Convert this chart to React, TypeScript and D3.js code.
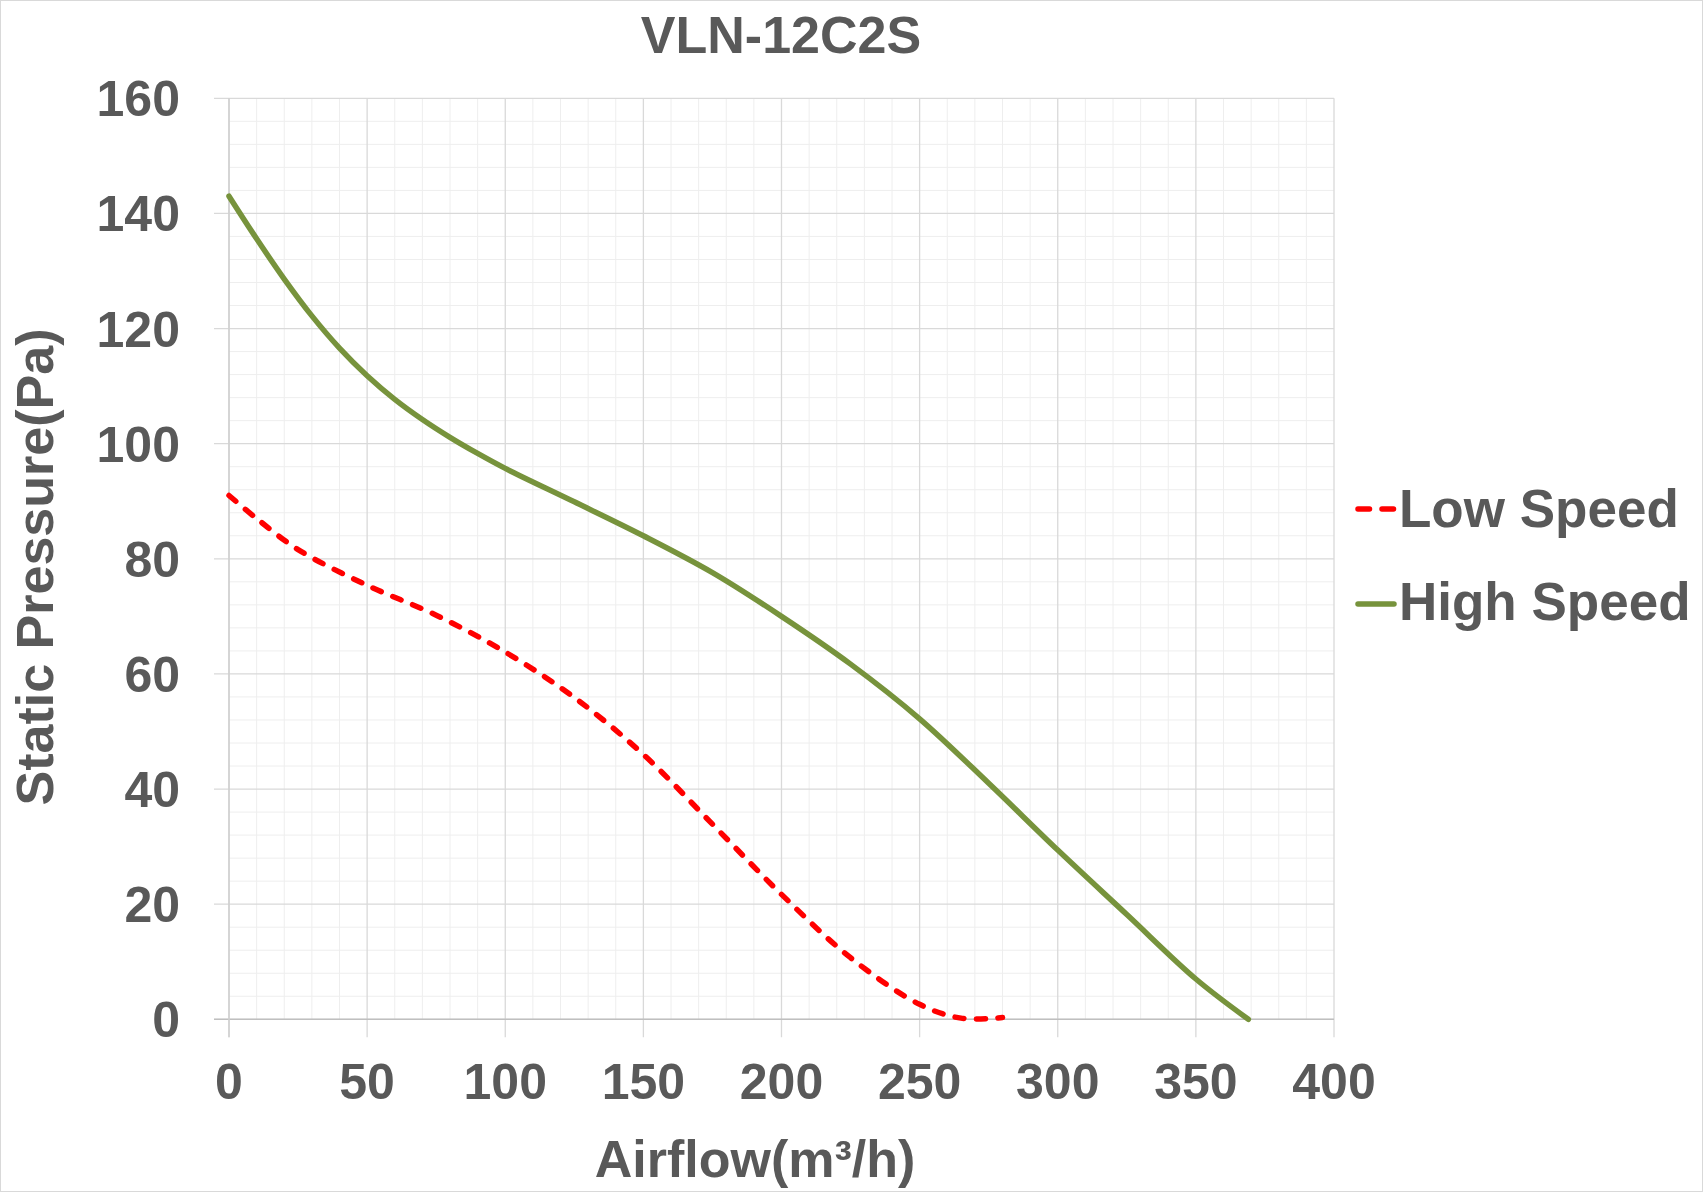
import React from "react";
import * as d3 from "d3";

// Fan curve data (airflow m³/h → static pressure Pa)
const lowAirflow = [0, 10, 25, 50, 75, 100, 125, 150, 175, 200, 225, 250, 265, 280];
const lowPressure = [91.0, 87.0, 81.6, 75.4, 70.2, 63.8, 55.9, 46.0, 33.9, 21.7, 10.7, 2.6, 0.2, 0.3];

const highAirflow = [0, 10, 20, 30, 40, 50, 60, 70, 80, 90, 100, 125, 150, 175, 200, 225, 250, 275, 300, 325, 350, 369];
const highPressure = [143, 135.6, 128.6, 122.2, 116.6, 111.8, 107.7, 104.2, 101.1, 98.3, 95.7, 89.9, 84.0, 77.6, 70, 61.7, 52.2, 41, 29.4, 18.2, 7.0, 0];

const xTicks = [0, 50, 100, 150, 200, 250, 300, 350, 400];
const yTicks = [0, 20, 40, 60, 80, 100, 120, 140, 160];

const seriesNames = ["Low Speed", "High Speed"];
const chartTitle = "VLN-12C2S";
const xTitle = "Airflow(m³/h)";
const yTitle = "Static Pressure(Pa)";

const W = 1703;
const H = 1192;
const FONT = "'Liberation Sans', Arial, sans-serif";
const TEXT = "#595959";
const GREEN = "#77933c";
const RED = "#ff0000";

type Pt = { x: number; y: number };

export default function App() {
  const x = d3.scaleLinear().domain([0, 400]).range([229, 1334]);
  const y = d3.scaleLinear().domain([0, 160]).range([1019.3, 98.3]);

  const low: Pt[] = lowAirflow.map((a, i) => ({ x: a, y: lowPressure[i] }));
  const high: Pt[] = highAirflow.map((a, i) => ({ x: a, y: highPressure[i] }));

  const line = d3
    .line<Pt>()
    .x((d) => x(d.x))
    .y((d) => y(d.y))
    .curve(d3.curveCatmullRom.alpha(0.5));

  const minorX = d3.range(0, 401, 10).filter((v) => v % 50 !== 0);
  const minorY = d3.range(0, 161, 4).filter((v) => v % 20 !== 0);

  const [x0, x1] = x.range();
  const [y0, y1] = y.range();

  return (
    <svg
      width={W}
      height={H}
      style={{ position: "absolute", left: 0, top: 0, background: "#fff" }}
      fontFamily={FONT}
      fontWeight="bold"
    >
      <rect x={0.5} y={0.5} width={W - 1} height={H - 1} fill="#fff" stroke="#d9d9d9" />

      {/* minor grid */}
      <g stroke="#eeeeee" strokeWidth={1}>
        {minorX.map((v) => (
          <line key={"mx" + v} x1={x(v)} x2={x(v)} y1={y1} y2={y0} />
        ))}
        {minorY.map((v) => (
          <line key={"my" + v} x1={x0} x2={x1} y1={y(v)} y2={y(v)} />
        ))}
      </g>

      {/* major grid + ticks */}
      <g stroke="#d9d9d9" strokeWidth={1.3}>
        {xTicks.map((v) => (
          <line key={"gx" + v} x1={x(v)} x2={x(v)} y1={y1} y2={y0 + 18} />
        ))}
        {yTicks.map((v) => (
          <line key={"gy" + v} x1={x0 - 15} x2={x1} y1={y(v)} y2={y(v)} />
        ))}
      </g>
      <line x1={x0 - 15} x2={x1} y1={y0} y2={y0} stroke="#bfbfbf" strokeWidth={1.5} />
      <line x1={x0} x2={x0} y1={y1} y2={y0 + 18} stroke="#cfcfcf" strokeWidth={1.5} />

      {/* tick labels */}
      <g fill={TEXT} fontSize={50}>
        {yTicks.map((v) => (
          <text key={"ty" + v} x={180} y={y(v) + 18} textAnchor="end">
            {v}
          </text>
        ))}
        {xTicks.map((v) => (
          <text key={"tx" + v} x={x(v)} y={1099} textAnchor="middle">
            {v}
          </text>
        ))}
      </g>

      {/* series */}
      <path d={line(high) || ""} fill="none" stroke={GREEN} strokeWidth={5.5} strokeLinecap="round" />
      <path
        d={line(low) || ""}
        fill="none"
        stroke={RED}
        strokeWidth={5.5}
        strokeLinecap="round"
        strokeDasharray="9,12.5"
      />

      {/* titles */}
      <text x={781} y={53} textAnchor="middle" fill={TEXT} fontSize={52}>
        {chartTitle}
      </text>
      <text x={755} y={1177} textAnchor="middle" fill={TEXT} fontSize={52}>
        {xTitle}
      </text>
      <text
        transform={`translate(53,567) rotate(-90)`}
        textAnchor="middle"
        fill={TEXT}
        fontSize={52}
      >
        {yTitle}
      </text>

      {/* legend */}
      <g>
        <line x1={1358} x2={1394} y1={509} y2={509} stroke={RED} strokeWidth={5.5} strokeLinecap="round" strokeDasharray="11.5,12.5" />
        <text x={1399} y={527} fill={TEXT} fontSize={53}>
          {seriesNames[0]}
        </text>
        <line x1={1358} x2={1394} y1={604} y2={604} stroke={GREEN} strokeWidth={5.5} strokeLinecap="round" />
        <text x={1399} y={620} fill={TEXT} fontSize={53}>
          {seriesNames[1]}
        </text>
      </g>
    </svg>
  );
}
